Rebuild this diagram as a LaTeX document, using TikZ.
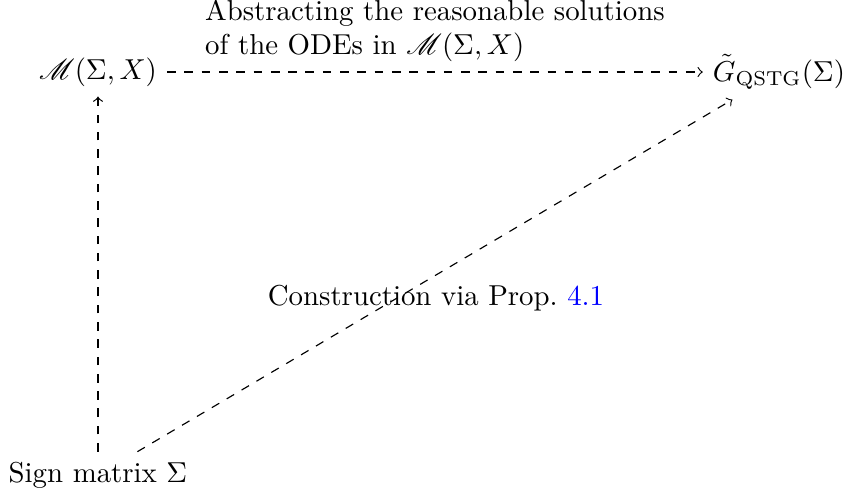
\documentclass[tikz,border=0pt]{standalone}
\usepackage{mathrsfs}
\begin{document}
\begin{tikzpicture}[x=0.347pt,y=-0.347pt,
  arr/.style={->,dashed}]
\useasboundingbox (0,0) rectangle (847,503);
\node (M) at (98,72) {$\mathscr{M}(\Sigma,X)$};
\node (G) at (779,72) {$\tilde{G}_{\mathrm{QSTG}}(\Sigma)$};
\node (S) at (98,475) {Sign matrix $\Sigma$};
\draw[arr] (M) -- node[above, align=left] {Abstracting the reasonable solutions\\of the ODEs in $\mathscr{M}(\Sigma,X)$} (G);
\draw[arr] (S) -- (M);
\draw[arr] (S) -- (G);
\node (C) at (436,298) {Construction via Prop.~\textcolor{blue}{4.1}};
\end{tikzpicture}
\end{document}
